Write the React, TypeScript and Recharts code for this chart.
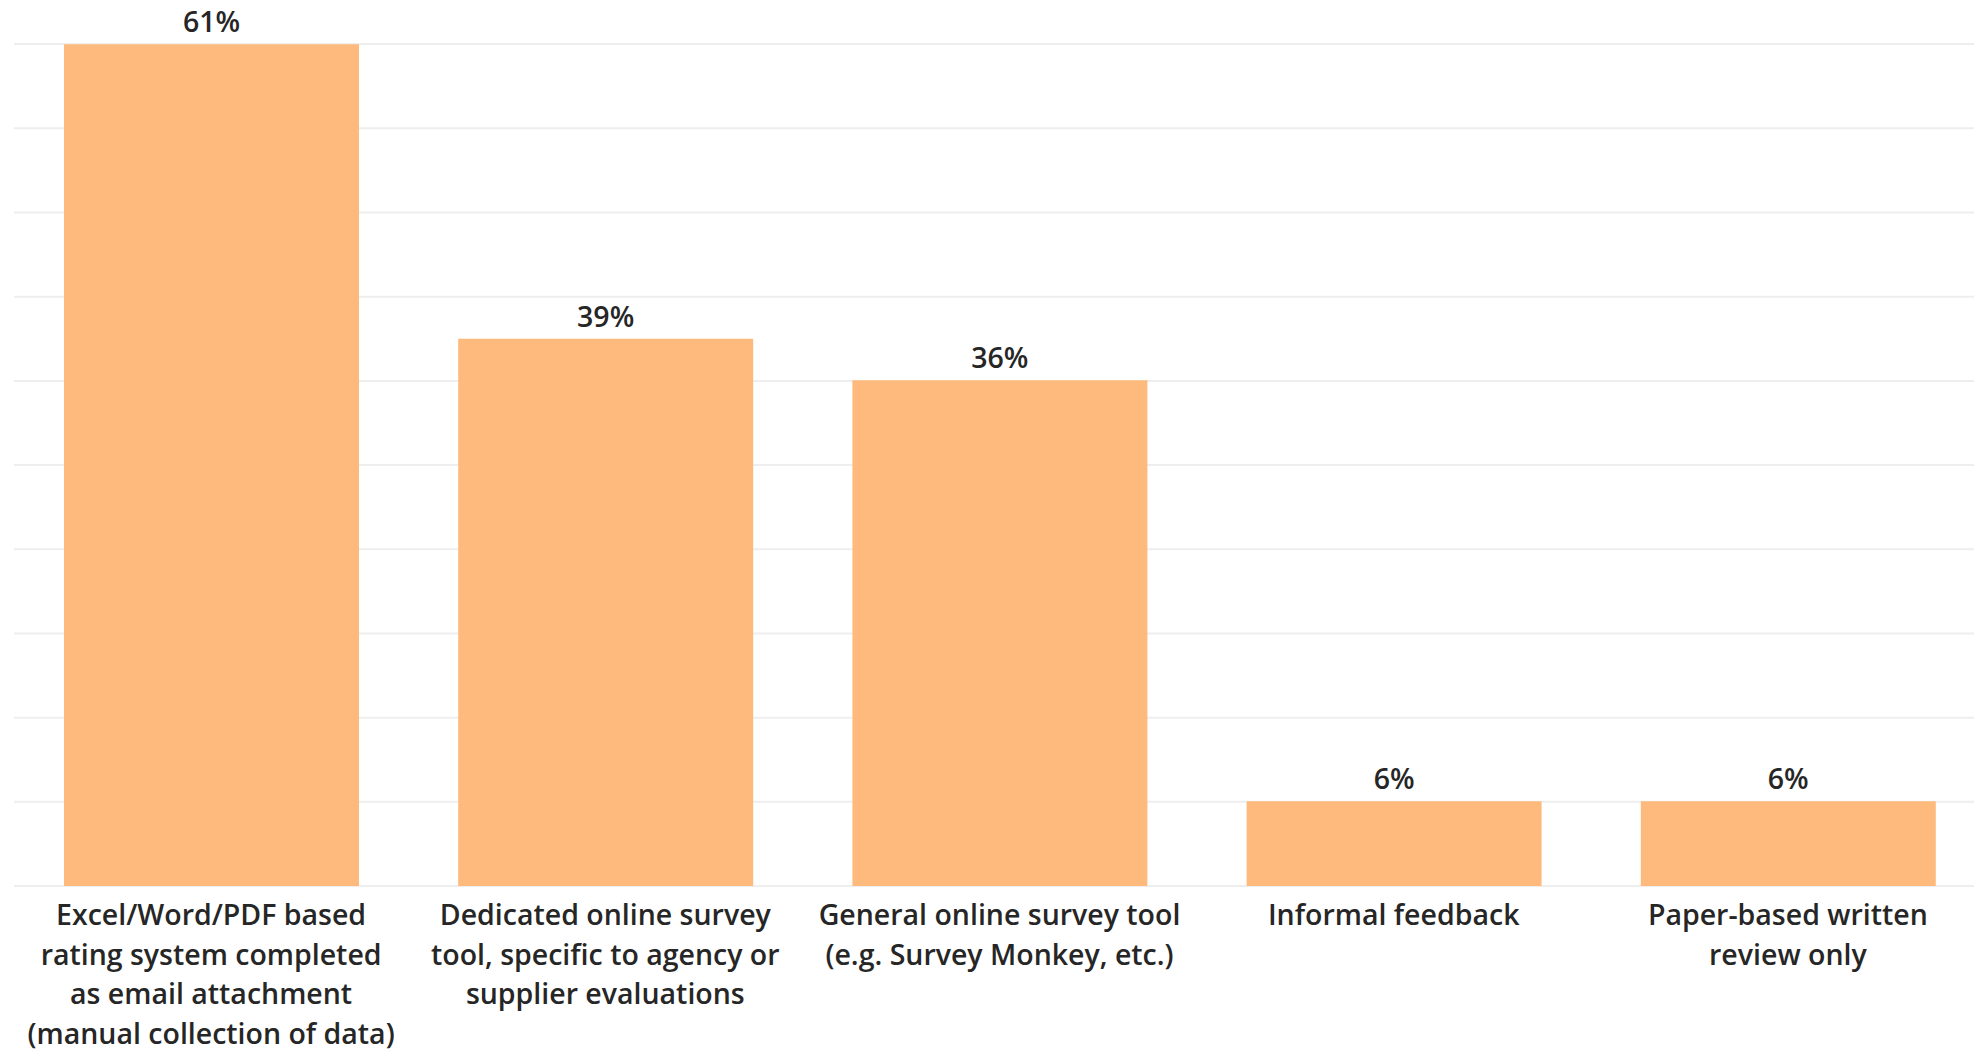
import React from "react";
import { BarChart, Bar, XAxis, YAxis, CartesianGrid, LabelList } from "recharts";

const categories = [
  "Excel/Word/PDF based\nrating system completed\nas email attachment\n(manual collection of data)",
  "Dedicated online survey\ntool, specific to agency or\nsupplier evaluations",
  "General online survey tool\n(e.g. Survey Monkey, etc.)",
  "Informal feedback",
  "Paper-based written\nreview only",
];
const values = [60.6, 39.4, 36.4, 6.1, 6.1];
const valueLabels = ["61%", "39%", "36%", "6%", "6%"];
const gridTicks = [0, 6.06, 12.12, 18.18, 24.24, 30.3, 36.36, 42.42, 48.48, 54.55, 60.61];

const data = categories.map((c, i) => ({ name: c, value: values[i], label: valueLabels[i] }));

const FONT = "'Open Sans', 'Noto Sans', sans-serif";
const TEXT = "#262626";

const Tick = (props: any) => {
  const { x, y, payload } = props;
  const lines = String(payload.value).split("\n");
  return (
    <text x={x} y={y} textAnchor="middle" fill={TEXT} fontSize={28.5} fontWeight={550} fontFamily={FONT}>
      {lines.map((l, i) => (
        <tspan key={i} x={x} dy={i === 0 ? 33 : 39.7}>
          {l}
        </tspan>
      ))}
    </text>
  );
};

export default function App() {
  return (
    <div style={{ position: "absolute", left: 0, top: 0, width: 1974, height: 1050, overflow: "hidden", background: "#fff" }}>
      <BarChart
        width={1985}
        height={1050}
        data={data}
        margin={{ top: 44, right: 0, left: 14, bottom: 0 }}
      >
        <CartesianGrid vertical={false} stroke="#eeeeee" strokeWidth={2} />
        <YAxis hide domain={[0, 60.61]} ticks={gridTicks} type="number" allowDataOverflow />
        <XAxis
          dataKey="name"
          height={164}
          axisLine={false}
          tickLine={false}
          tickMargin={0}
          interval={0}
          tick={<Tick />}
        />
        <Bar dataKey="value" fill="#FEBA7C" barSize={295} isAnimationActive={false}>
          <LabelList dataKey="label" position="top" offset={12} fill={TEXT} fontSize={28.5} fontWeight={550} fontFamily={FONT} />
        </Bar>
      </BarChart>
    </div>
  );
}
